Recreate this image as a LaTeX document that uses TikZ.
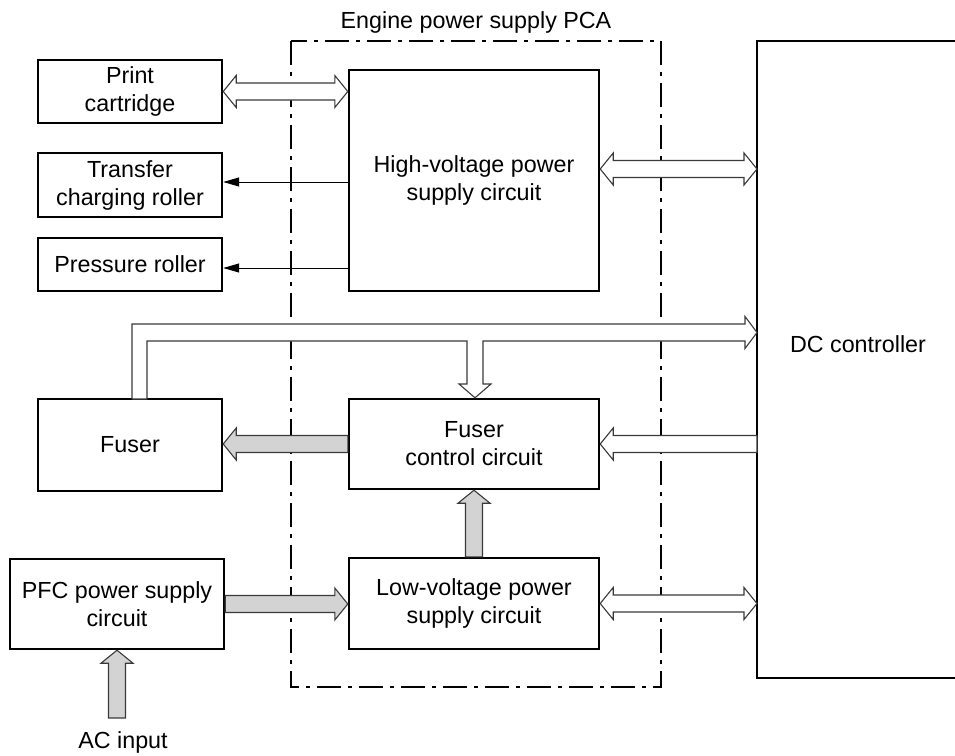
\documentclass[tikz,border=0pt]{standalone}
\usepackage{fontspec}
\setmainfont{Liberation Sans}
\usetikzlibrary{calc,arrows.meta}
\definecolor{fatgray}{HTML}{D3D3D3}
\definecolor{edgegray}{HTML}{3A3A3A}
\def\sw{8.5}
\def\hw{16}
\def\hl{13}
% right-pointing fat arrow: style, start, tip
\newcommand{\fatR}[3]{\path[#1] ($(#2)+(0,-\sw)$) -- ($(#3)+(-\hl,-\sw)$) -- ($(#3)+(-\hl,-\hw)$) -- (#3) -- ($(#3)+(-\hl,\hw)$) -- ($(#3)+(-\hl,\sw)$) -- ($(#2)+(0,\sw)$) -- cycle;}
% left-pointing fat arrow: style, start, tip
\newcommand{\fatL}[3]{\path[#1] ($(#2)+(0,-\sw)$) -- ($(#3)+(\hl,-\sw)$) -- ($(#3)+(\hl,-\hw)$) -- (#3) -- ($(#3)+(\hl,\hw)$) -- ($(#3)+(\hl,\sw)$) -- ($(#2)+(0,\sw)$) -- cycle;}
% up-pointing fat arrow: style, start, tip
\newcommand{\fatU}[3]{\path[#1] ($(#2)+(-\sw,0)$) -- ($(#3)+(-\sw,\hl)$) -- ($(#3)+(-\hw,\hl)$) -- (#3) -- ($(#3)+(\hw,\hl)$) -- ($(#3)+(\sw,\hl)$) -- ($(#2)+(\sw,0)$) -- cycle;}
% double-headed horizontal fat arrow: style, left tip, right tip
\newcommand{\fatLR}[3]{\path[#1] (#2) -- ($(#2)+(\hl,-\hw)$) -- ($(#2)+(\hl,-\sw)$) -- ($(#3)+(-\hl,-\sw)$) -- ($(#3)+(-\hl,-\hw)$) -- (#3) -- ($(#3)+(-\hl,\hw)$) -- ($(#3)+(-\hl,\sw)$) -- ($(#2)+(\hl,\sw)$) -- ($(#2)+(\hl,\hw)$) -- cycle;}
\tikzset{
  txt/.style={font=\fontsize{23.3}{28}\selectfont},
  box/.style={draw=black, line width=2.4pt, align=center, inner sep=0pt, txt},
  lbl/.style={inner sep=0pt, txt},
  openarrow/.style={draw=edgegray, line width=1.1pt, fill=white, line join=miter},
  grayarrow/.style={draw=edgegray, line width=1.1pt, fill=fatgray, line join=miter},
  sig/.style={line width=1pt, -{Triangle[length=16pt,width=9pt]}},
  pcaline/.style={line width=2.4pt, dash pattern=on 24pt off 7pt on 4pt off 7pt},
  dcline/.style={line width=2.4pt}
}
\begin{document}
\begin{tikzpicture}[x=1pt,y=-1pt]
\useasboundingbox (0,0) rectangle (955,755);
% PCA frame
\draw[pcaline] (291,41) rectangle (661,687);
\node[lbl, anchor=base] (title) at (476,28) {Engine power supply PCA};
% DC controller
\draw[dcline] (955,41) -- (757,41) -- (757,678) -- (955,678);
\coordinate (dcl) at (757,344);
\node[lbl] (dc) at (858,344) {DC controller};
% boxes
\node[box, minimum width=184pt, minimum height=63pt] (pc) at (130,91.5) {Print\\cartridge};
\node[box, minimum width=184pt, minimum height=64pt] (tcr) at (130,185) {Transfer\\charging roller};
\node[box, minimum width=184pt, minimum height=53pt] (pr) at (130,264.5) {Pressure roller};
\node[box, minimum width=250pt, minimum height=221pt] (hv) at (474,180.5) {High-voltage power\\supply circuit};
\node[box, minimum width=184pt, minimum height=92pt] (fuser) at (130,445) {Fuser};
\node[box, minimum width=250pt, minimum height=90pt] (fcc) at (474,444) {Fuser\\control circuit};
\node[box, minimum width=250pt, minimum height=91pt] (lv) at (474,603.5) {Low-voltage power\\supply circuit};
\node[box, minimum width=214pt, minimum height=90pt] (pfc) at (117,604) {PFC power supply\\circuit};
\node[lbl, anchor=base] (ac) at (123,748) {AC input};
\coordinate (acs) at (117,718);
% connectors
\fatLR{openarrow}{pc.east}{pc.east -| hv.west}
\draw[sig] ([yshift=3pt]hv.west |- tcr.east) -- ([yshift=3pt]tcr.east);
\draw[sig] ([yshift=-3.5pt]hv.west |- pr.east) -- ([yshift=-3.5pt]pr.east);
\coordinate (hvr) at ($(hv.east)+(0,-11.5)$);
\fatLR{openarrow}{hvr}{hvr -| dcl}
% fuser to DC controller and fuser control circuit
\path[openarrow] (132,399) -- (132,324) -- (745,324) -- (745,316.5) -- (dcl |- 0,332.5) -- (745,348.5) -- (745,341)
  -- (483,341) -- (483,384) -- (491,384) -- (fcc.north -| 475,0) -- (459,384) -- (467,384) -- (467,341)
  -- (147,341) -- (147,399) -- cycle;
\fatL{grayarrow}{fcc.west}{fcc.west -| fuser.east}
\fatL{openarrow}{fcc.east -| dcl}{fcc.east}
\fatR{grayarrow}{pfc.east}{pfc.east -| lv.west}
\fatLR{openarrow}{lv.east}{lv.east -| dcl}
\fatU{grayarrow}{lv.north}{fcc.south}
\fatU{grayarrow}{acs}{pfc.south}
\end{tikzpicture}
\end{document}
